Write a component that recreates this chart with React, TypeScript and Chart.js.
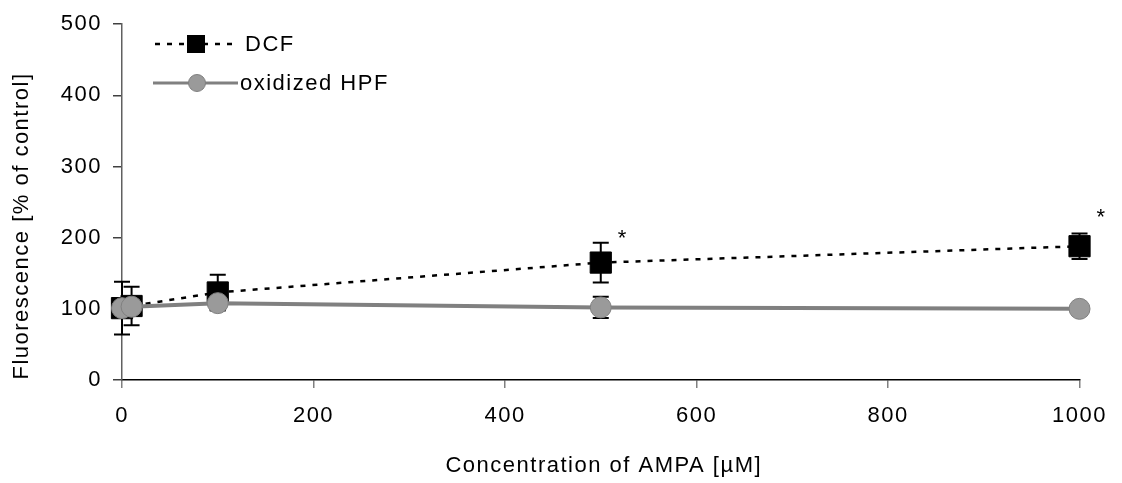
import React, { useEffect, useRef } from 'react';
import { Chart, registerables } from 'chart.js';

Chart.register(...registerables);

// ---- data ----
const concentrations = [0, 10, 100, 500, 1000];
const dcfValues = [101, 104, 123, 165, 188];
const dcfErrors = [37, 27, 25, 28, 18];
const hpfValues = [101, 103, 108, 102, 100];
const hpfErrors = [8, 8, 10, 15, 4];
const dcfSignificance: (number | null)[] = [null, null, null, 204, 233];
const xTickValues = [0, 200, 400, 600, 800, 1000];
const yTickValues = [0, 100, 200, 300, 400, 500];
const seriesLabels = ['DCF', 'oxidized HPF'];
const xTitle = 'Concentration of AMPA [µM]';
const yTitle = 'Fluorescence [% of control]';

const FONT = "'Liberation Sans', Arial, sans-serif";
const FONT_SIZE = 22;
const SPACING = '1.5px';

const DCF_COLOR = '#000000';
const HPF_LINE = '#808080';
const HPF_FILL = '#9a9a9a';

const spacingPlugin = {
  id: 'spacing',
  beforeUpdate(chart: any) {
    chart.ctx.letterSpacing = SPACING;
  },
  beforeDraw(chart: any) {
    chart.ctx.letterSpacing = SPACING;
  },
};

function drawErrorBars(chart: any, values: number[], errors: number[]) {
  const ctx = chart.ctx;
  const xs = chart.scales.x;
  const ys = chart.scales.y;
  ctx.save();
  ctx.strokeStyle = '#000';
  ctx.lineWidth = 2;
  ctx.setLineDash([]);
  concentrations.forEach((c, i) => {
    const px = xs.getPixelForValue(c);
    const top = ys.getPixelForValue(values[i] + errors[i]);
    const bot = ys.getPixelForValue(values[i] - errors[i]);
    ctx.beginPath();
    ctx.moveTo(px, top);
    ctx.lineTo(px, bot);
    ctx.moveTo(px - 8, top);
    ctx.lineTo(px + 8, top);
    ctx.moveTo(px - 8, bot);
    ctx.lineTo(px + 8, bot);
    ctx.stroke();
  });
  ctx.restore();
}

const decorPlugin = {
  id: 'decor',
  beforeDatasetsDraw(chart: any) {
    drawErrorBars(chart, dcfValues, dcfErrors);
    drawErrorBars(chart, hpfValues, hpfErrors);
  },
  afterDraw(chart: any) {
    const ctx = chart.ctx;
    const xs = chart.scales.x;
    const ys = chart.scales.y;
    ctx.save();
    ctx.letterSpacing = SPACING;
    ctx.font = `${FONT_SIZE}px ${FONT}`;
    ctx.fillStyle = '#000';

    // significance asterisks
    ctx.textAlign = 'center';
    ctx.textBaseline = 'middle';
    dcfSignificance.forEach((lvl, i) => {
      if (lvl == null) return;
      const px = xs.getPixelForValue(concentrations[i]) + 22;
      const py = ys.getPixelForValue(lvl) + 4;
      ctx.fillText('*', px, py);
    });

    // axis titles
    ctx.textAlign = 'center';
    ctx.textBaseline = 'alphabetic';
    ctx.fillText(xTitle, (xs.left + xs.right) / 2 + 3, 472);
    ctx.save();
    ctx.translate(27.5, 226);
    ctx.rotate(-Math.PI / 2);
    ctx.fillText(yTitle, 0, 0);
    ctx.restore();

    // legend – DCF
    ctx.save();
    ctx.strokeStyle = DCF_COLOR;
    ctx.lineWidth = 2.5;
    ctx.setLineDash([5, 7]);
    ctx.beginPath();
    ctx.moveTo(155, 44);
    ctx.lineTo(234, 44);
    ctx.stroke();
    ctx.restore();
    ctx.fillStyle = DCF_COLOR;
    ctx.fillRect(187, 35, 18, 18);
    // legend – HPF
    ctx.save();
    ctx.strokeStyle = HPF_LINE;
    ctx.lineWidth = 3;
    ctx.beginPath();
    ctx.moveTo(153, 83);
    ctx.lineTo(238, 83);
    ctx.stroke();
    ctx.beginPath();
    ctx.arc(197, 83, 8.5, 0, Math.PI * 2);
    ctx.fillStyle = HPF_FILL;
    ctx.fill();
    ctx.lineWidth = 1;
    ctx.strokeStyle = HPF_LINE;
    ctx.stroke();
    ctx.restore();

    ctx.fillStyle = '#000';
    ctx.textAlign = 'left';
    ctx.textBaseline = 'middle';
    ctx.fillText(seriesLabels[0], 245, 45);
    ctx.fillText(seriesLabels[1], 240, 84);
    ctx.restore();
  },
};

export default function App() {
  const canvasRef = useRef<HTMLCanvasElement | null>(null);

  useEffect(() => {
    if (!canvasRef.current) return;
    Chart.defaults.font.family = FONT;
    Chart.defaults.font.size = FONT_SIZE;
    Chart.defaults.color = '#000';

    const chart = new Chart(canvasRef.current, {
      type: 'line',
      data: {
        datasets: [
          {
            label: seriesLabels[0],
            data: concentrations.map((x, i) => ({ x, y: dcfValues[i] })),
            borderColor: DCF_COLOR,
            borderWidth: 2.5,
            borderDash: [5, 7],
            pointStyle: 'rect',
            pointRadius: 15,
            pointBackgroundColor: DCF_COLOR,
            pointBorderColor: DCF_COLOR,
            pointBorderWidth: 1,
            tension: 0,
            fill: false,
            clip: false,
            order: 1,
          } as any,
          {
            label: seriesLabels[1],
            data: concentrations.map((x, i) => ({ x, y: hpfValues[i] })),
            borderColor: HPF_LINE,
            borderWidth: 4,
            pointStyle: 'circle',
            pointRadius: 10.5,
            pointBackgroundColor: HPF_FILL,
            pointBorderColor: HPF_LINE,
            pointBorderWidth: 1,
            tension: 0,
            fill: false,
            clip: false,
            order: 0,
          } as any,
        ],
      },
      options: {
        animation: false,
        responsive: false,
        events: [],
        layout: { padding: { top: 22, right: 34, left: 0, bottom: 0 } },
        plugins: {
          legend: { display: false },
          tooltip: { enabled: false },
          title: { display: false },
        },
        scales: {
          x: {
            type: 'linear',
            min: 0,
            max: 1000,
            afterBuildTicks: (s: any) => {
              s.ticks = xTickValues.map((v) => ({ value: v }));
            },
            afterFit: (s: any) => {
              s.height = 103;
            },
            grid: {
              display: true,
              drawOnChartArea: false,
              drawTicks: true,
              tickLength: 8,
              color: '#808080',
              lineWidth: 1.5,
            },
            border: { display: true, color: '#000', width: 1.5 },
            ticks: {
              autoSkip: false,
              maxRotation: 0,
              padding: 15,
              color: '#000',
              font: { size: FONT_SIZE, family: FONT },
              callback: (v: any) => String(v),
            },
          },
          y: {
            type: 'linear',
            min: 0,
            max: 500,
            afterBuildTicks: (s: any) => {
              s.ticks = yTickValues.map((v) => ({ value: v }));
            },
            afterFit: (s: any) => {
              s.width = 122;
            },
            grid: {
              display: true,
              drawOnChartArea: false,
              drawTicks: true,
              tickLength: 9,
              color: '#404040',
              lineWidth: 1.5,
            },
            border: { display: true, color: '#606060', width: 1.5 },
            ticks: {
              padding: 11,
              color: '#000',
              font: { size: FONT_SIZE, family: FONT },
              callback: (v: any) => String(v),
            },
          },
        },
      } as any,
      plugins: [spacingPlugin, decorPlugin],
    });
    return () => chart.destroy();
  }, []);

  return (
    <div style={{ position: 'fixed', left: 0, top: 0, width: 1122, height: 483, background: '#fff' }}>
      <canvas ref={canvasRef} width={1122} height={483} style={{ display: 'block' }} />
    </div>
  );
}
